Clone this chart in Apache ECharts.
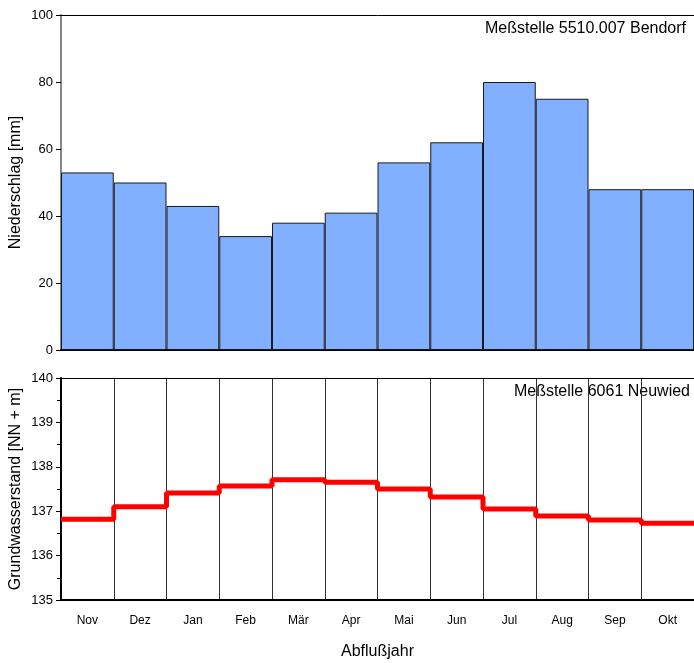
<!DOCTYPE html>
<html><head><meta charset="utf-8">
<script src="https://cdn.jsdelivr.net/npm/echarts@6/dist/echarts.min.js"></script>
<style>html,body{margin:0;padding:0;background:#fff}#c{width:694px;height:663px}</style>
</head><body><div id="c"></div>
<script>
const months = ['Nov','Dez','Jan','Feb','Mär','Apr','Mai','Jun','Jul','Aug','Sep','Okt'];
const niederschlag = [53, 50, 43, 34, 38, 41, 56, 62, 80, 75, 48, 48];
const grundwasser = [136.82, 137.10, 137.41, 137.57, 137.71, 137.65, 137.50, 137.32, 137.05, 136.89, 136.80, 136.73];

const stepData = grundwasser.map((v, i) => [i, v]);
stepData.push([grundwasser.length, grundwasser[grundwasser.length - 1]]);

const font = 'Liberation Sans, Arial, sans-serif';
const chart = echarts.init(document.getElementById('c'), null, {renderer: 'canvas'});
chart.setOption({
  animation: false,
  textStyle: {fontFamily: font},
  grid: [
    {left: 61, top: 15, width: 633, height: 335, containLabel: false, outerBoundsMode: 'none'},
    {left: 61, top: 378, width: 633, height: 222, containLabel: false, outerBoundsMode: 'none'}
  ],
  xAxis: [
    {gridIndex: 0, type: 'category', data: months, boundaryGap: true,
     axisLine: {lineStyle: {color: '#000', width: 2}}, axisTick: {show: false}, axisLabel: {show: false}},
    {gridIndex: 0, type: 'category', data: months, position: 'top',
     axisLine: {lineStyle: {color: '#000', width: 1}}, axisTick: {show: false}, axisLabel: {show: false}},
    {gridIndex: 1, type: 'category', data: months, boundaryGap: true,
     axisLine: {lineStyle: {color: '#000', width: 2}}, axisTick: {show: false},
     axisLabel: {color: '#000', fontSize: 12, margin: 15, fontFamily: font},
     splitLine: {show: true, lineStyle: {color: '#333', width: 1}},
     name: 'Abflußjahr', nameLocation: 'middle', nameGap: 44,
     nameTextStyle: {color: '#000', fontSize: 16, fontFamily: font}},
    {gridIndex: 1, type: 'value', min: 0, max: 12, show: false},
    {gridIndex: 1, type: 'category', data: months, position: 'top',
     axisLine: {lineStyle: {color: '#000', width: 1}}, axisTick: {show: false}, axisLabel: {show: false}}
  ],
  yAxis: [
    {gridIndex: 0, type: 'value', min: 0, max: 100, interval: 20,
     axisLine: {show: true, lineStyle: {color: '#888', width: 2}},
     axisTick: {show: true, length: 5, lineStyle: {color: '#000'}},
     axisLabel: {color: '#000', fontSize: 13, margin: 8, fontFamily: font},
     splitLine: {show: false},
     name: 'Niederschlag [mm]', nameLocation: 'middle', nameGap: 37, nameMoveOverlap: false,
     nameTextStyle: {color: '#000', fontSize: 16, fontFamily: font}},
    {gridIndex: 1, type: 'value', min: 135, max: 140, interval: 1,
     axisLine: {show: true, lineStyle: {color: '#000', width: 2}},
     axisTick: {show: true, length: 5, lineStyle: {color: '#000'}},
     minorTick: {show: true, splitNumber: 2, length: 4, lineStyle: {color: '#000'}},
     axisLabel: {color: '#000', fontSize: 13, margin: 8, fontFamily: font},
     splitLine: {show: false},
     name: 'Grundwasserstand [NN + m]', nameLocation: 'middle', nameGap: 37, nameMoveOverlap: false,
     nameTextStyle: {color: '#000', fontSize: 16, fontFamily: font}}
  ],
  series: [
    {type: 'bar', xAxisIndex: 0, yAxisIndex: 0, data: niederschlag, barCategoryGap: 0, barGap: 0,
     itemStyle: {color: '#80b0ff', borderColor: '#1a1a1a', borderWidth: 1}},
    {type: 'line', xAxisIndex: 3, yAxisIndex: 1, data: stepData, step: 'end', symbol: 'none',
     lineStyle: {color: '#ff0000', width: 5}}
  ],
  graphic: [
    {type: 'text', right: 8, top: 21, style: {text: 'Meßstelle 5510.007 Bendorf', fill: '#000', font: '16px ' + font}},
    {type: 'text', right: 4, top: 384, style: {text: 'Meßstelle 6061 Neuwied', fill: '#000', font: '16px ' + font}}
  ]
});
</script></body></html>
